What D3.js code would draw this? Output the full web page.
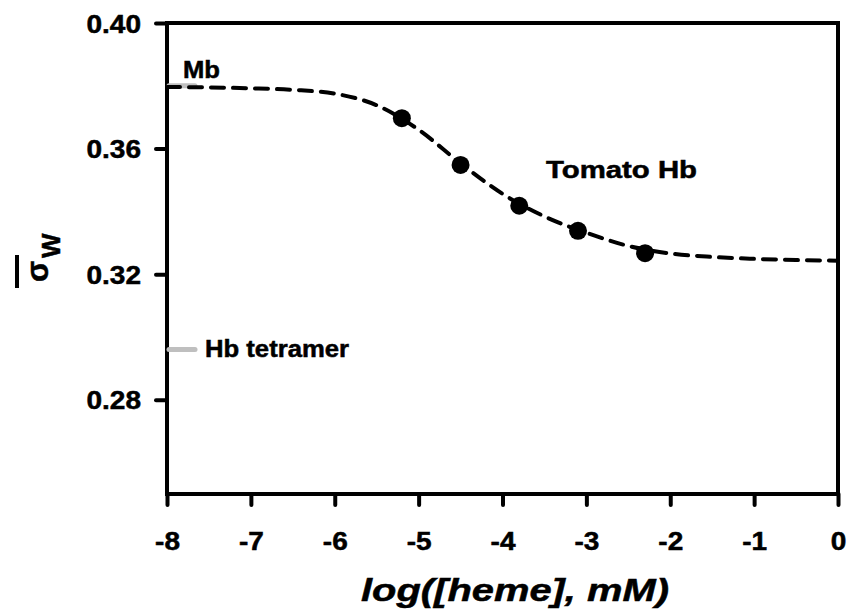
<!DOCTYPE html>
<html>
<head>
<meta charset="utf-8">
<script src="https://cdn.jsdelivr.net/npm/d3@7"></script>
<style>
  html, body { margin: 0; padding: 0; background: #fff; }
  svg { display: block; font-family: "Liberation Sans", Arial, Helvetica, sans-serif; }
  svg text { stroke: #000; stroke-width: 0.5px; }
</style>
</head>
<body>
<svg id="chart" width="848" height="614"></svg>
<script>
// Measured sedimentation: log heme concentration vs weight-average sigma
const pointX = [-5.2, -4.5, -3.8, -3.1, -2.3];
const pointY = [0.3697, 0.3548, 0.3418, 0.3338, 0.3267];

// Fitted curve through the measurements
const fitX = [-8, -7.5, -7, -6.5, -6, -5.5, -5, -4.5, -4, -3.5, -3, -2.5, -2, -1.5, -1, -0.5, 0];
const fitY = [0.3796, 0.3795, 0.3792, 0.3787, 0.3775, 0.3738, 0.3660, 0.3553, 0.3456, 0.3384, 0.3332, 0.3290, 0.3266, 0.3255, 0.3249, 0.3245, 0.3243];

// Reference levels for monomer and tetramer
const refNames = ["Mb", "Hb tetramer"];
const refValues = [0.38, 0.296];

const xTicks = [-8, -7, -6, -5, -4, -3, -2, -1, 0];
const yTicks = [0.28, 0.32, 0.36, 0.40];
const seriesLabel = "Tomato Hb";
const xTitle = "log([heme], mM)";

(function () {
const svg = d3.select("#chart");
const plotL = 167, plotR = 838, plotT = 23, plotB = 494;
const SX = 1.12; // horizontal widening of tick lettering

const x = d3.scaleLinear().domain([-8, 0]).range([plotL, plotR]);
const y = d3.scaleLinear().domain([0.25, 0.40]).range([plotB, plotT]);

// frame
svg.append("rect")
  .attr("x", plotL).attr("y", plotT)
  .attr("width", plotR - plotL).attr("height", plotB - plotT)
  .attr("fill", "none").attr("stroke", "#000").attr("stroke-width", 4);

// y axis
const yAxis = svg.append("g")
  .attr("transform", `translate(${plotL},0)`)
  .call(d3.axisLeft(y).tickValues(yTicks).tickSize(11).tickPadding(0)
    .tickFormat(d => d.toFixed(2)));
yAxis.select(".domain").remove();
yAxis.selectAll(".tick line").attr("stroke", "#000").attr("stroke-width", 4).attr("stroke-linecap", "round");
yAxis.selectAll(".tick text")
  .attr("x", null).attr("dy", null)
  .attr("transform", `translate(-26,9) scale(${SX},1)`)
  .attr("text-anchor", "end")
  .attr("font-size", 25).attr("font-weight", "bold").attr("fill", "#000");

// x axis (plain hyphen for the minus sign)
const xAxis = svg.append("g")
  .attr("transform", `translate(0,${plotB})`)
  .call(d3.axisBottom(x).tickValues(xTicks).tickSize(11).tickPadding(0)
    .tickFormat(d => String(d)));
xAxis.select(".domain").remove();
xAxis.selectAll(".tick line").attr("stroke", "#000").attr("stroke-width", 4).attr("stroke-linecap", "round");
xAxis.selectAll(".tick text")
  .attr("y", null).attr("dy", null)
  .attr("transform", `translate(0,56) scale(${SX},1)`)
  .attr("text-anchor", "middle")
  .attr("font-size", 25).attr("font-weight", "bold").attr("fill", "#000");

// reference level markers
refValues.forEach((v) => {
  svg.append("line")
    .attr("x1", x(-8) + 2).attr("x2", x(-8) + 28)
    .attr("y1", y(v)).attr("y2", y(v))
    .attr("stroke", "#bfbfbf").attr("stroke-width", 5).attr("stroke-linecap", "round");
});

// fitted curve
const line = d3.line().x((d, i) => x(fitX[i])).y((d, i) => y(fitY[i])).curve(d3.curveMonotoneX);
svg.append("path")
  .attr("d", line(fitX))
  .attr("fill", "none").attr("stroke", "#000").attr("stroke-width", 4)
  .attr("stroke-dasharray", "13,9").attr("stroke-linecap", "round");

// measurements
svg.selectAll("circle.pt").data(pointX).join("circle")
  .attr("class", "pt")
  .attr("cx", (d) => x(d)).attr("cy", (d, i) => y(pointY[i]))
  .attr("r", 9).attr("fill", "#000");

// text labels, stretched to their set widths
function label(tx, ty, str, size, width, anchor) {
  return svg.append("text")
    .attr("x", tx).attr("y", ty)
    .attr("text-anchor", anchor || "start")
    .attr("font-size", size).attr("font-weight", "bold").attr("fill", "#000")
    .attr("textLength", width).attr("lengthAdjust", "spacingAndGlyphs")
    .text(str);
}
label(183, 78, refNames[0], 23, 37);
label(205, 357, refNames[1], 23, 144);
label(546, 178, seriesLabel, 23, 151);
label(515, 601, xTitle, 32, 308, "middle").attr("font-style", "italic");

// y axis title: sigma with overbar and subscript w
const yt = svg.append("g").attr("transform", "translate(48,282) rotate(-90)");
yt.append("text").attr("x", 0).attr("y", 0)
  .attr("font-size", 31).attr("font-weight", "bold").attr("fill", "#000")
  .text("σ");
yt.append("text").attr("x", 24).attr("y", 12)
  .attr("font-size", 26).attr("font-weight", "bold").attr("fill", "#000")
  .text("W");
yt.append("line")
  .attr("x1", -6).attr("x2", 27).attr("y1", -31).attr("y2", -31)
  .attr("stroke", "#000").attr("stroke-width", 4);
})();
</script>
</body>
</html>
